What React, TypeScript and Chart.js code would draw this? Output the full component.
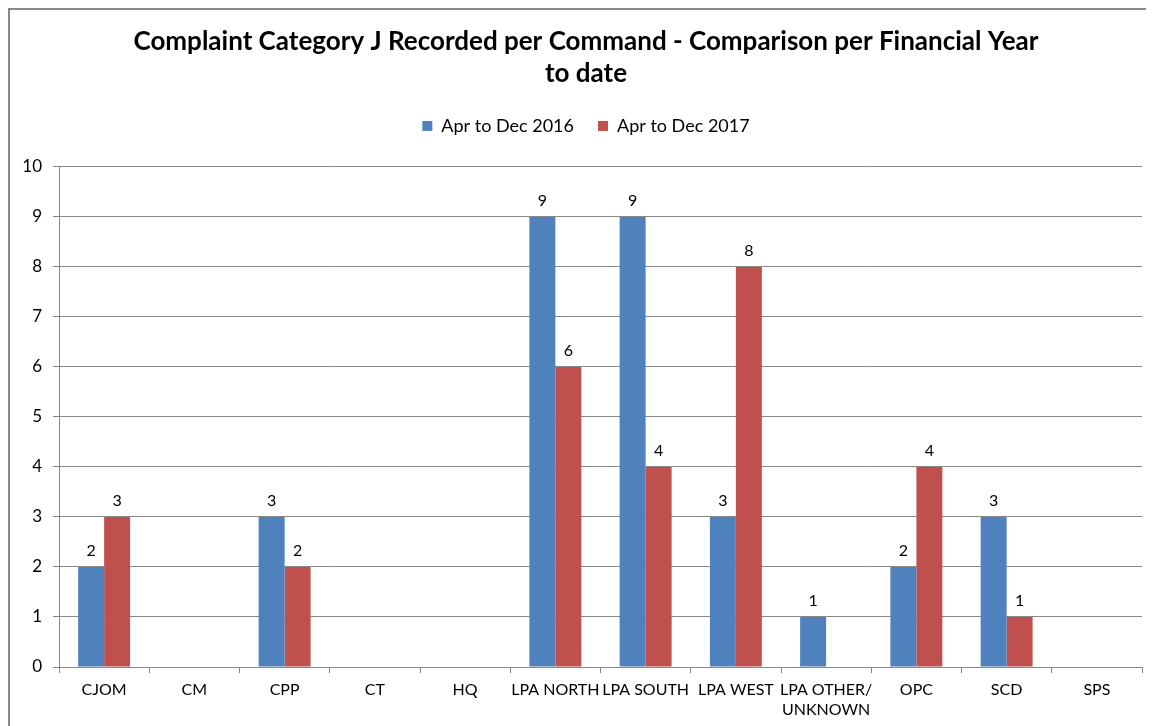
import React, { useEffect, useRef } from "react";
import { Chart, registerables, layouts } from "chart.js";

Chart.register(...registerables);

const categories: (string | string[])[] = [
  "CJOM", "CM", "CPP", "CT", "HQ", "LPA NORTH", "LPA SOUTH", "LPA WEST",
  ["LPA OTHER/", "UNKNOWN"], "OPC", "SCD", "SPS",
];
const series2016 = [2, 0, 3, 0, 0, 9, 9, 3, 1, 2, 3, 0];
const series2017 = [3, 0, 2, 0, 0, 6, 4, 8, 0, 4, 1, 0];
const seriesNames = ["Apr to Dec 2016", "Apr to Dec 2017"];
const titleLines = [
  "Complaint Category J Recorded per Command - Comparison per Financial Year",
  "to date",
];
const yTicks = [0, 1, 2, 3, 4, 5, 6, 7, 8, 9, 10];

const FONT = "Lato, 'Open Sans', sans-serif";

const valueLabels = {
  id: "valueLabels",
  afterDatasetsDraw(chart: any) {
    const ctx = chart.ctx;
    ctx.save();
    ctx.font = `16px ${FONT}`;
    ctx.fillStyle = "#000";
    ctx.textAlign = "center";
    ctx.textBaseline = "bottom";
    chart.data.datasets.forEach((ds: any, i: number) => {
      const meta = chart.getDatasetMeta(i);
      meta.data.forEach((bar: any, j: number) => {
        const v = ds.data[j];
        if (!v) return;
        ctx.fillText(String(v), bar.x, bar.y - 8);
      });
    });
    ctx.restore();
  },
};

// empty layout box that adds a gap between the legend and the plot area
const legendSpacer = {
  id: "legendSpacer",
  start(chart: any) {
    const box: any = {
      position: "top",
      weight: 1,
      fullSize: true,
      options: {},
      top: 0,
      left: 0,
      right: 0,
      bottom: 0,
      width: 0,
      height: 0,
      isHorizontal() {
        return true;
      },
      update(maxWidth: number) {
        this.width = maxWidth;
        this.height = 22;
      },
      draw() {},
    };
    layouts.addBox(chart, box);
  },
};

export default function App() {
  const ref = useRef<HTMLCanvasElement>(null);
  useEffect(() => {
    if (!ref.current) return;
    const chart = new Chart(ref.current, {
      type: "bar",
      data: {
        labels: categories,
        datasets: [
          { label: seriesNames[0], data: series2016, backgroundColor: "#4F81BD" },
          { label: seriesNames[1], data: series2017, backgroundColor: "#C0504D" },
        ],
      },
      options: {
        animation: false,
        responsive: false,
        maintainAspectRatio: false,
        layout: { padding: { left: 20, right: 12, top: 0, bottom: 0 } },
        datasets: { bar: { categoryPercentage: 0.576, barPercentage: 1 } },
        plugins: {
          title: {
            display: true,
            text: titleLines,
            color: "#000",
            font: { family: FONT, size: 26, weight: "bold", lineHeight: 1.23 },
            padding: { top: 16, bottom: 3 },
          },
          legend: {
            display: true,
            position: "top",
            labels: {
              color: "#000",
              font: { family: FONT, size: 18 },
              boxWidth: 10,
              boxHeight: 10,
              padding: 24,
            },
          },
          tooltip: { enabled: false },
        },
        scales: {
          x: {
            offset: true,
            grid: {
              display: true,
              offset: true,
              drawOnChartArea: false,
              drawTicks: true,
              tickLength: 6,
              color: "#888",
            },
            border: { display: true, color: "#888" },
            ticks: {
              color: "#000",
              font: { family: FONT, size: 16, lineHeight: 1.3 },
              padding: 6,
              maxRotation: 0,
              autoSkip: false,
            },
            afterFit(scale: any) {
              scale.height = 59;
            },
          },
          y: {
            min: 0,
            max: 10,
            afterBuildTicks(scale: any) {
              scale.ticks = yTicks.map((v) => ({ value: v }));
            },
            grid: { color: "#888", tickLength: 6, drawTicks: true },
            border: { display: true, color: "#888" },
            ticks: {
              color: "#000",
              font: { family: FONT, size: 17 },
              padding: 11,
            },
            afterFit(scale: any) {
              scale.width = 29;
              scale._computeLabelArea = () => undefined;
            },
          },
        },
      },
      plugins: [valueLabels, legendSpacer],
    });
    return () => chart.destroy();
  }, []);
  return (
    <div
      style={{
        width: 1146,
        height: 718,
        borderTop: "2px solid #888",
        borderLeft: "2px solid #888",
        boxSizing: "border-box",
        overflow: "hidden",
        background: "#fff",
      }}
    >
      <canvas ref={ref} width={1144} height={716} style={{ display: "block" }} />
    </div>
  );
}
